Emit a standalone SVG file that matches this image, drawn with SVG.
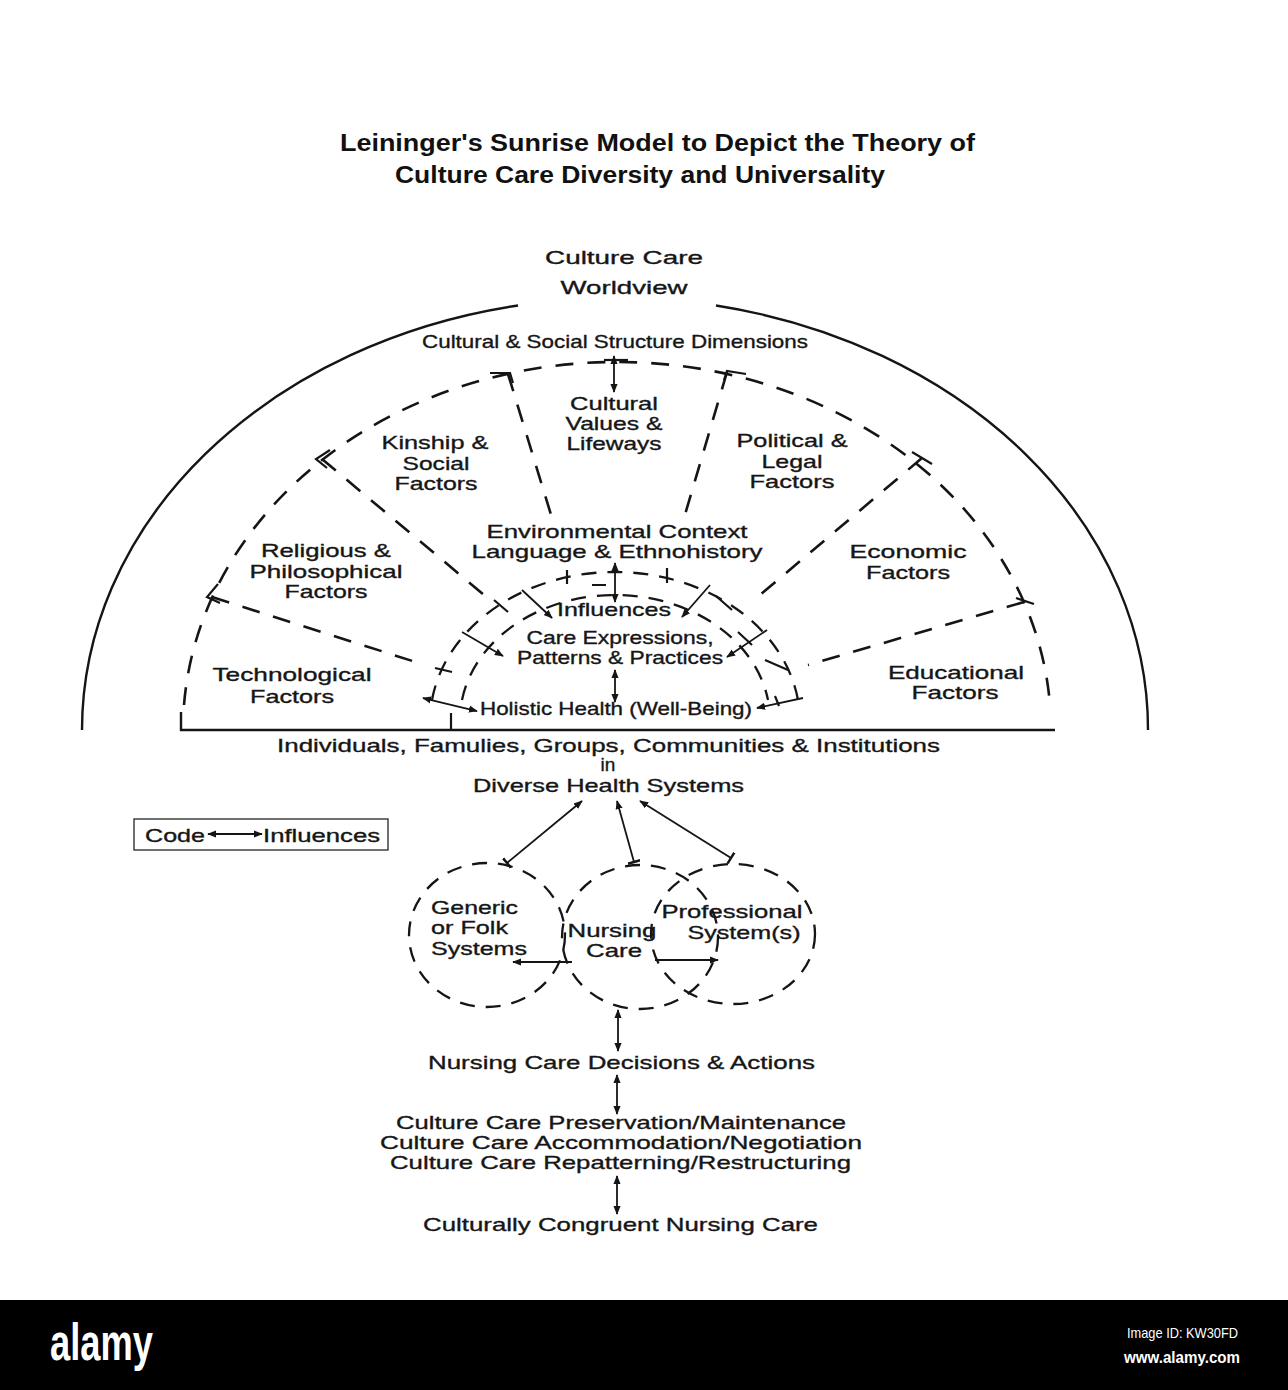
<svg xmlns="http://www.w3.org/2000/svg" width="1288" height="1390" viewBox="0 0 1288 1390">
<defs>
<style>
.t{font-family:"Liberation Sans",Arial,sans-serif;fill:#161616;font-size:19px;stroke:#161616;stroke-width:0.35;}
.tm{text-anchor:middle;}
.ti{font-family:"Liberation Sans",Arial,sans-serif;fill:#111;font-weight:bold;font-size:23px;}
.dash{fill:none;stroke:#151515;stroke-width:2.6;stroke-dasharray:18 14;}
.dash2{fill:none;stroke:#151515;stroke-width:2.3;stroke-dasharray:15 11;}
.solid{fill:none;stroke:#151515;stroke-width:2.4;}
.mark{fill:none;stroke:#151515;stroke-width:2.2;}
.conn{fill:none;stroke:#151515;stroke-width:1.8;}
</style>
<marker id="ah" viewBox="0 0 10 10" refX="9" refY="5" markerWidth="5" markerHeight="5" orient="auto-start-reverse"><path d="M0,1 L10,5 L0,9 z" fill="#151515"/></marker>
<marker id="tb" viewBox="0 0 10 10" refX="5" refY="5" markerWidth="7" markerHeight="7" orient="auto"><path d="M5,0 V10" stroke="#151515" stroke-width="2"/></marker>
</defs>
<rect width="1288" height="1390" fill="#ffffff"/>

<g id="title">
<text class="ti" x="340" y="151" textLength="635" lengthAdjust="spacingAndGlyphs">Leininger's Sunrise Model to Depict the Theory of</text>
<text class="ti" x="395" y="183" textLength="490" lengthAdjust="spacingAndGlyphs">Culture Care Diversity and Universality</text>
</g>

<g id="frame">
<path class="solid" d="M 82,730 A 533 432 0 0 1 518,305.5"/>
<path class="solid" d="M 716,305.5 A 533 432 0 0 1 1148,730"/>
<path class="solid" d="M 181,712 L 181,730 L 1055,730"/>
<path class="mark" d="M 451,713 L 451,730"/>
<path class="dash" d="M 184,705 A 434 368 0 0 1 1050,705"/>
<path class="dash" d="M 212,597 L 425,665"/>
<path class="mark" d="M 218,584 L 207,597 L 220,603"/>
<path class="dash" d="M 322,459 L 490,600"/>
<path class="mark" d="M 330,450 L 316,459 L 327,468"/>
<path class="dash" d="M 508,374 L 552,518"/>
<path class="mark" d="M 490,373 L 510,373 L 513,383"/>
<path class="dash" d="M 727,372 L 684,518"/>
<path class="mark" d="M 724,380 L 727,371 L 746,374"/>
<path class="dash" d="M 922,458 L 760,595"/>
<path class="mark" d="M 912,452 L 932,464"/>
<path class="dash" d="M 1024,602 L 808,665"/>
<path class="mark" d="M 1016,598 L 1034,604"/>
<path class="dash2" d="M 432,700 A 185 150 0 0 1 798,700"/>
<path class="dash2" d="M 462,700 A 155 125 0 0 1 768,700"/>
<path class="mark" d="M 567,570 L 567,584 M 667,568 L 667,583 M 494,600 L 508,612 M 592,585 L 606,585 M 435,668 L 452,672 M 738,632 L 752,645 M 765,660 L 788,670 M 716,596 L 732,610 M 775,696 L 779,706"/>
</g>

<g id="connectors">
<path class="conn" d="M 614,356 L 614,392" marker-start="url(#ah)" marker-end="url(#ah)"/>
<path class="mark" d="M 604,360 L 628,360"/>
<path class="conn" d="M 615,563 L 615,602" marker-start="url(#ah)" marker-end="url(#ah)"/>
<path class="conn" d="M 615,670 L 615,702" marker-start="url(#ah)" marker-end="url(#ah)"/>
<path class="conn" d="M 423,698 L 477,711" marker-start="url(#ah)" marker-end="url(#ah)"/>
<path class="conn" d="M 757,708 L 803,698" marker-start="url(#ah)"/>
<path class="conn" d="M 462,632 L 503,656" marker-end="url(#ah)"/>
<path class="conn" d="M 522,590 L 552,618" marker-end="url(#ah)"/>
<path class="conn" d="M 710,585 L 682,617" marker-end="url(#ah)"/>
<path class="conn" d="M 727,657 L 767,630" marker-start="url(#ah)"/>
<path class="conn" d="M 582,801 L 507,863" marker-start="url(#ah)" marker-end="url(#tb)"/>
<path class="conn" d="M 617,801 L 634,862" marker-start="url(#ah)" marker-end="url(#tb)"/>
<path class="conn" d="M 640,801 L 731,858" marker-start="url(#ah)" marker-end="url(#tb)"/>
<path class="conn" d="M 513,962 L 572,962" marker-start="url(#ah)"/>
<path class="conn" d="M 655,960 L 718,960" marker-end="url(#ah)"/>
<path class="conn" d="M 618,1010 L 618,1051" marker-start="url(#ah)" marker-end="url(#ah)"/>
<path class="conn" d="M 617,1075 L 617,1114" marker-start="url(#ah)" marker-end="url(#ah)"/>
<path class="conn" d="M 617,1176 L 617,1214" marker-start="url(#ah)" marker-end="url(#ah)"/>
</g>

<g id="worldview"><text class="t tm" x="624" y="264" font-size="25" textLength="158" lengthAdjust="spacingAndGlyphs">Culture Care</text><text class="t tm" x="624" y="294" font-size="25" textLength="127" lengthAdjust="spacingAndGlyphs">Worldview</text></g>
<g id="dimensions"><text class="t" x="422" y="348" font-size="18" textLength="386" lengthAdjust="spacingAndGlyphs">Cultural &amp; Social Structure Dimensions</text></g>
<g id="cultural-values"><text class="t tm" x="614" y="410" textLength="88" lengthAdjust="spacingAndGlyphs">Cultural</text><text class="t tm" x="614" y="430" textLength="97" lengthAdjust="spacingAndGlyphs">Values &amp;</text><text class="t tm" x="614" y="450" textLength="95" lengthAdjust="spacingAndGlyphs">Lifeways</text></g>
<g id="kinship"><text class="t tm" x="435" y="449" textLength="107" lengthAdjust="spacingAndGlyphs">Kinship &amp;</text><text class="t tm" x="436" y="470" textLength="67" lengthAdjust="spacingAndGlyphs">Social</text><text class="t tm" x="436" y="490" textLength="83" lengthAdjust="spacingAndGlyphs">Factors</text></g>
<g id="political"><text class="t tm" x="792" y="447" textLength="111" lengthAdjust="spacingAndGlyphs">Political &amp;</text><text class="t tm" x="792" y="468" textLength="61" lengthAdjust="spacingAndGlyphs">Legal</text><text class="t tm" x="792" y="488" textLength="85" lengthAdjust="spacingAndGlyphs">Factors</text></g>
<g id="religious"><text class="t tm" x="326" y="557" textLength="130" lengthAdjust="spacingAndGlyphs">Religious &amp;</text><text class="t tm" x="326" y="578" textLength="153" lengthAdjust="spacingAndGlyphs">Philosophical</text><text class="t tm" x="326" y="598" textLength="83" lengthAdjust="spacingAndGlyphs">Factors</text></g>
<g id="environmental"><text class="t tm" x="617" y="538" textLength="261" lengthAdjust="spacingAndGlyphs">Environmental Context</text><text class="t tm" x="617" y="558" textLength="291" lengthAdjust="spacingAndGlyphs">Language &amp; Ethnohistory</text></g>
<g id="economic"><text class="t tm" x="908" y="558" textLength="117" lengthAdjust="spacingAndGlyphs">Economic</text><text class="t tm" x="908" y="579" textLength="84" lengthAdjust="spacingAndGlyphs">Factors</text></g>
<g id="influences"><text class="t tm" x="614" y="616" textLength="114" lengthAdjust="spacingAndGlyphs">Influences</text></g>
<g id="care-expressions"><text class="t tm" x="620" y="644" textLength="187" lengthAdjust="spacingAndGlyphs">Care Expressions,</text><text class="t tm" x="620" y="664" textLength="206" lengthAdjust="spacingAndGlyphs">Patterns &amp; Practices</text></g>
<g id="technological"><text class="t tm" x="292" y="681" font-size="18" textLength="159" lengthAdjust="spacingAndGlyphs">Technological</text><text class="t tm" x="292" y="703" font-size="18" textLength="84" lengthAdjust="spacingAndGlyphs">Factors</text></g>
<g id="educational"><text class="t tm" x="956" y="679" textLength="136" lengthAdjust="spacingAndGlyphs">Educational</text><text class="t tm" x="955" y="699" textLength="87" lengthAdjust="spacingAndGlyphs">Factors</text></g>
<g id="holistic"><text class="t" x="480" y="715" font-size="18" textLength="272" lengthAdjust="spacingAndGlyphs">Holistic Health (Well-Being)</text></g>
<g id="individuals"><text class="t" x="277" y="752" textLength="663" lengthAdjust="spacingAndGlyphs">Individuals, Famulies, Groups, Communities &amp; Institutions</text><text class="t tm" x="608" y="771" font-size="18">in</text><text class="t" x="473" y="792" textLength="271" lengthAdjust="spacingAndGlyphs">Diverse Health Systems</text></g>

<g id="code">
<rect x="134" y="819" width="254" height="31" fill="none" stroke="#333" stroke-width="1.4"/>
<text class="t" x="145" y="842" font-size="20" textLength="60" lengthAdjust="spacingAndGlyphs">Code</text>
<path class="conn" d="M 208,834 L 262,834" marker-start="url(#ah)" marker-end="url(#ah)" stroke-width="1.4"/>
<text class="t" x="263" y="842" font-size="20" textLength="117" lengthAdjust="spacingAndGlyphs">Influences</text>
</g>

<g id="generic">
<ellipse class="dash2" cx="487" cy="935" rx="78" ry="72"/>
<text class="t" x="431" y="914" textLength="87" lengthAdjust="spacingAndGlyphs">Generic</text>
<text class="t" x="431" y="934" textLength="77" lengthAdjust="spacingAndGlyphs">or Folk</text>
<text class="t" x="431" y="955" textLength="96" lengthAdjust="spacingAndGlyphs">Systems</text>
</g>
<g id="nursing-care">
<ellipse class="dash2" cx="640" cy="937" rx="78" ry="72"/>
<text class="t tm" x="612" y="937" textLength="89" lengthAdjust="spacingAndGlyphs">Nursing</text>
<text class="t tm" x="614" y="957" textLength="56" lengthAdjust="spacingAndGlyphs">Care</text>
</g>
<g id="professional">
<ellipse class="dash2" cx="733" cy="934" rx="82" ry="70"/>
<text class="t tm" x="732" y="918" textLength="141" lengthAdjust="spacingAndGlyphs">Professional</text>
<text class="t tm" x="744" y="939" textLength="113" lengthAdjust="spacingAndGlyphs">System(s)</text>
</g>

<g id="decisions"><text class="t" x="428" y="1069" font-size="21" textLength="387" lengthAdjust="spacingAndGlyphs">Nursing Care Decisions &amp; Actions</text></g>
<g id="modes">
<text class="t" x="396" y="1129" font-size="20" textLength="450" lengthAdjust="spacingAndGlyphs">Culture Care Preservation/Maintenance</text>
<text class="t" x="380" y="1149" font-size="20" textLength="482" lengthAdjust="spacingAndGlyphs">Culture Care Accommodation/Negotiation</text>
<text class="t" x="390" y="1169" font-size="20" textLength="461" lengthAdjust="spacingAndGlyphs">Culture Care Repatterning/Restructuring</text>
</g>
<g id="congruent"><text class="t" x="423" y="1231" font-size="21" textLength="395" lengthAdjust="spacingAndGlyphs">Culturally Congruent Nursing Care</text></g>

<g id="watermark">
<rect x="0" y="1300" width="1288" height="90" fill="#000"/>
<text x="50" y="1360" font-family="'Liberation Sans',Arial,sans-serif" font-weight="bold" font-size="52" fill="#fff" textLength="103" lengthAdjust="spacingAndGlyphs">alamy</text>
<text x="1238" y="1338" text-anchor="end" font-family="'Liberation Sans',Arial,sans-serif" font-size="15" fill="#fff" textLength="111" lengthAdjust="spacingAndGlyphs">Image ID: KW30FD</text>
<text x="1240" y="1363" text-anchor="end" font-family="'Liberation Sans',Arial,sans-serif" font-weight="bold" font-size="17" fill="#fff" textLength="116" lengthAdjust="spacingAndGlyphs">www.alamy.com</text>
</g>
</svg>
